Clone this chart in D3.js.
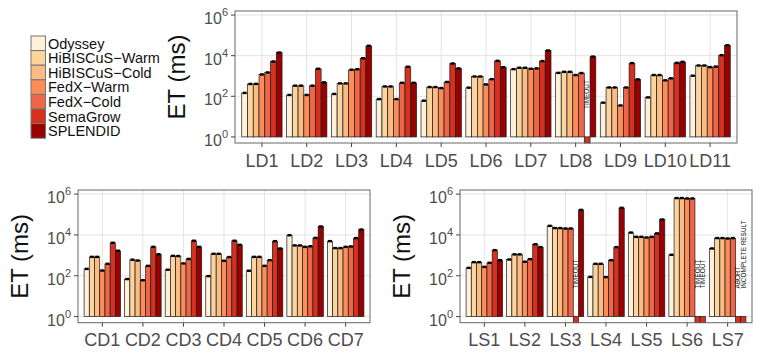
<!DOCTYPE html>
<html>
<head>
<meta charset="utf-8">
<script src="https://cdn.jsdelivr.net/npm/d3@7.9.0/dist/d3.min.js"></script>
<style>
  body { margin: 0; background: #fff; }
  svg { display: block; font-family: "Liberation Sans", Arial, Helvetica, sans-serif; }
</style>
</head>
<body>
<svg id="chart" width="764" height="357"></svg>
<script>
// systems, one bar each per query
const methods = ['Odyssey', 'HiBISCuS-Warm', 'HiBISCuS-Cold', 'FedX-Warm', 'FedX-Cold', 'SemaGrow', 'SPLENDID'];
const methodColors = ['#fef0d9', '#fdd49e', '#fdbb84', '#fc8d59', '#ef6548', '#d7301f', '#990000'];

// execution times in ms (null = run failed)
const ldQueries = ['LD1', 'LD2', 'LD3', 'LD4', 'LD5', 'LD6', 'LD7', 'LD8', 'LD9', 'LD10', 'LD11'];
const ldTimes = [
  [145, 400, 405, 1175, 1480, 5130, 14100],
  [115, 330, 330, 115, 330, 2240, 480],
  [129, 427, 427, 2000, 2140, 7400, 30200],
  [72, 302, 302, 72, 457, 2820, 457],
  [60, 282, 282, 251, 501, 4070, 2340],
  [263, 933, 933, 380, 692, 5500, 2690],
  [2140, 2510, 2510, 2240, 2340, 5370, 17800],
  [1410, 1585, 1585, 1100, 1380, null, 8900],
  [48, 269, 269, 35, 269, 4270, 676],
  [87, 1100, 1100, 603, 759, 4365, 4900],
  [1020, 3240, 3240, 2690, 2880, 10500, 32400]
];

const cdQueries = ['CD1', 'CD2', 'CD3', 'CD4', 'CD5', 'CD6', 'CD7'];
const cdTimes = [
  [214, 832, 832, 178, 380, 4070, 1660],
  [68, 603, 550, 60, 302, 2570, 1120],
  [195, 933, 912, 398, 661, 5130, 2570],
  [95, 1175, 1175, 537, 813, 5130, 3240],
  [174, 832, 832, 302, 575, 4900, 2140],
  [9550, 3020, 3020, 2570, 2750, 7080, 25700],
  [4900, 2240, 2240, 2570, 2690, 6920, 18200]
];

const lsQueries = ['LS1', 'LS2', 'LS3', 'LS4', 'LS5', 'LS6', 'LS7'];
const lsTimes = [
  [240, 457, 457, 269, 427, 1780, 575],
  [617, 1100, 1100, 479, 646, 3470, 2510],
  [27500, 21400, 21400, 20400, 20400, null, 166000],
  [87, 380, 380, 85, 575, 2510, 209000],
  [12900, 7940, 7940, 7410, 7940, 11750, 56200],
  [1050, 631000, 631000, 603000, 603000, null, null],
  [2140, 6920, 6920, 6610, 6920, null, null]
];

// what happened to the failed runs
const ldNotes = [['LD8', 'SemaGrow', 'TIMEOUT']];
const cdNotes = [];
const lsNotes = [
  ['LS3', 'SemaGrow', 'TIMEOUT'],
  ['LS6', 'SemaGrow', 'TIMEOUT'],
  ['LS6', 'SPLENDID', 'TIMEOUT'],
  ['LS7', 'SemaGrow', 'ABORT'],
  ['LS7', 'SPLENDID', 'INCOMPLETE RESULT']
];

const yTicks = [1, 1e2, 1e4, 1e6];
const yExp = ['0', '2', '4', '6'];

const svg = d3.select('#chart');
const color = d3.scaleOrdinal(methods, methodColors);

function drawPanel(box, queries, times, notes) {
  const x = d3.scalePoint().domain(queries).range([box.left, box.right]).padding(0.6);
  const step = x.step();
  const inner = d3.scaleBand().domain(methods).range([-0.45 * step, 0.45 * step]);
  const y = d3.scaleLog().domain([Math.pow(10, -0.3), Math.pow(10, 6.2)]).range([box.bottom, box.top]);
  const g = svg.append('g');

  // panel bg + grid
  g.append('rect')
    .attr('x', box.left).attr('y', box.top)
    .attr('width', box.right - box.left).attr('height', box.bottom - box.top)
    .attr('fill', '#fff');
  g.selectAll('.hgrid').data(yTicks).join('line')
    .attr('x1', box.left).attr('x2', box.right)
    .attr('y1', d => y(d)).attr('y2', d => y(d))
    .attr('stroke', '#e3e3e3').attr('stroke-width', 1);
  g.selectAll('.vgrid').data(queries).join('line')
    .attr('x1', d => x(d)).attr('x2', d => x(d))
    .attr('y1', box.top).attr('y2', box.bottom)
    .attr('stroke', '#e3e3e3').attr('stroke-width', 1);

  // bars
  const rows = [];
  queries.forEach((q, qi) => {
    methods.forEach((m, mi) => {
      rows.push({ q: q, m: m, v: times[qi][mi] });
    });
  });
  const base = y(1);
  g.selectAll('.bar').data(rows).join('rect')
    .attr('x', d => x(d.q) + inner(d.m))
    .attr('width', inner.bandwidth())
    .attr('y', d => d.v == null ? base : y(d.v))
    .attr('height', d => d.v == null ? box.bottom - base : base - y(d.v))
    .attr('fill', d => d.v == null ? '#d7301f' : color(d.m))
    .attr('stroke', '#1a1a1a').attr('stroke-width', 0.7);

  // error caps
  g.selectAll('.cap').data(rows.filter(d => d.v != null)).join('rect')
    .attr('x', d => x(d.q) + inner(d.m) + inner.bandwidth() / 2 - 2)
    .attr('y', d => y(d.v) - 1.3)
    .attr('width', 4).attr('height', 2.4)
    .attr('fill', '#000');

  // failure notes
  g.selectAll('.note').data(notes).join('text')
    .attr('transform', d => {
      const cx = x(d[0]) + inner(d[1]) + inner.bandwidth() / 2;
      return `translate(${cx},${base - 28}) rotate(-90)`;
    })
    .attr('dy', '0.35em')
    .attr('font-size', 6.4)
    .attr('fill', '#111')
    .text(d => d[2]);

  // border
  g.append('rect')
    .attr('x', box.left).attr('y', box.top)
    .attr('width', box.right - box.left).attr('height', box.bottom - box.top)
    .attr('fill', 'none').attr('stroke', '#666').attr('stroke-width', 1);

  // y axis
  g.selectAll('.ytick').data(yTicks).join('line')
    .attr('x1', box.left - 4).attr('x2', box.left)
    .attr('y1', d => y(d)).attr('y2', d => y(d))
    .attr('stroke', '#444');
  const lab = g.selectAll('.ylab').data(yTicks).join('text')
    .attr('x', box.left - 7)
    .attr('y', d => y(d) + 9)
    .attr('text-anchor', 'end')
    .attr('fill', '#4d4d4d')
    .attr('font-size', 16);
  lab.append('tspan').text('10');
  lab.append('tspan').attr('dy', -8).attr('font-size', 11).text((d, i) => yExp[i]);

  g.append('text')
    .attr('transform', `translate(${box.left - 58},${(box.top + box.bottom) / 2}) rotate(-90)`)
    .attr('text-anchor', 'middle')
    .attr('dy', '0.35em')
    .attr('font-size', 24)
    .attr('fill', '#111')
    .text('ET (ms)');

  // x axis
  g.selectAll('.xtick').data(queries).join('line')
    .attr('x1', d => x(d)).attr('x2', d => x(d))
    .attr('y1', box.bottom).attr('y2', box.bottom + 4)
    .attr('stroke', '#444');
  g.selectAll('.xlab').data(queries).join('text')
    .attr('x', d => x(d))
    .attr('y', box.bottom + 23.5)
    .attr('text-anchor', 'middle')
    .attr('fill', '#4d4d4d')
    .attr('font-size', 18)
    .text(d => d);
}

drawPanel({ left: 235, right: 737, top: 11, bottom: 143 }, ldQueries, ldTimes, ldNotes);
drawPanel({ left: 78, right: 370, top: 190, bottom: 322.7 }, cdQueries, cdTimes, cdNotes);
drawPanel({ left: 460, right: 752, top: 190, bottom: 322.7 }, lsQueries, lsTimes, lsNotes);

// legend
const legend = svg.append('g');
methods.forEach((m, i) => {
  legend.append('rect')
    .attr('x', 31).attr('y', 36 + i * 14.6)
    .attr('width', 14.5).attr('height', 14.6)
    .attr('fill', color(m))
    .attr('stroke', '#777').attr('stroke-width', 1);
  legend.append('text')
    .attr('x', 48).attr('y', 36 + i * 14.6 + 7.3)
    .attr('dy', '0.36em')
    .attr('font-size', 14.5)
    .attr('fill', '#111')
    .text(m.replace('-', '\u2212'));
});
</script>
</body>
</html>
